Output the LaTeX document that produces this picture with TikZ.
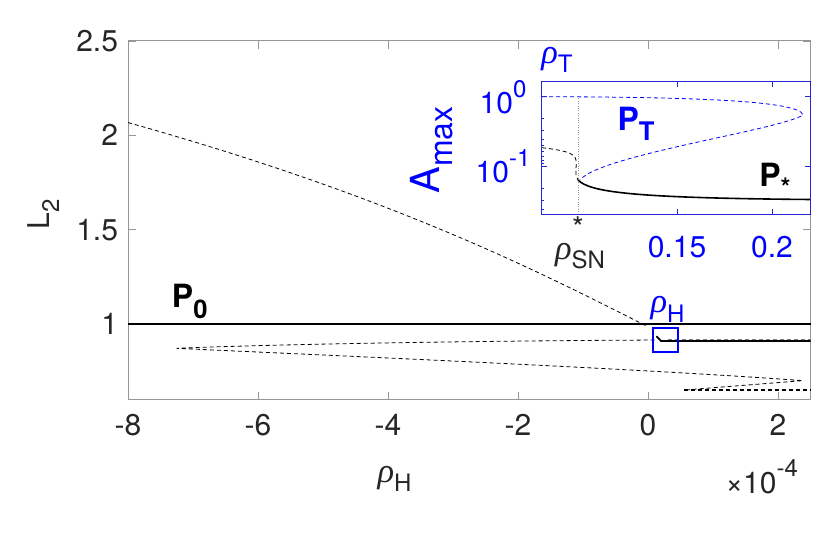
\documentclass[tikz,border=0pt]{standalone}
\usepackage{fontspec}
\setmainfont{TeX Gyre Heros}
\newfontfamily\greekfont{Liberation Serif}
\usepackage[svgnames]{xcolor}
\definecolor{axgray}{RGB}{150,150,150}
\definecolor{insetblue}{RGB}{0,0,255}
\newcommand{\lowsub}[1]{\raisebox{-0.32em}{\scalebox{0.8}{#1}}}
\newcommand{\highsup}[1]{\raisebox{0.55em}{\scalebox{0.8}{#1}}}
\newcommand{\rhosub}[1]{{\greekfont\itshape\scalebox{1.15}{ρ}}\lowsub{#1}}
\tikzset{
  ticklbl/.style={font=\fontsize{30}{34}\selectfont, text=black!85},
  bigbold/.style={font=\fontsize{32}{36}\selectfont\bfseries},
  branchdash/.style={dashed, dash pattern=on 4pt off 3pt, line width=0.8pt},
}
\begin{document}
\begin{tikzpicture}
		\useasboundingbox (0,0) rectangle (830pt,534pt);
		% main axes, data coordinates
		\begin{scope}[x=65pt, y=188.8pt, shift={(648pt,21.2pt)}]
		\draw[axgray, line width=0.8pt] (-8,0.6) rectangle (2.5,2.5);
		\foreach \xv in {-8,-6,-4,-2,0,2} {
			\draw[axgray] (\xv,0.6) -- ++(0,8pt);
			\draw[axgray] (\xv,2.5) -- ++(0,-8pt);
			\node[ticklbl, anchor=north] (xt\xv) at (\xv,0.54) {\xv};
		}
		\foreach \yv/\yl in {1/1,1.5/1.5,2/2,2.5/2.5} {
			\draw[axgray] (-8,\yv) -- ++(8pt,0);
			\draw[axgray] (2.5,\yv) -- ++(-8pt,0);
			\node[ticklbl, anchor=east] (yt\yl) at (-8.1,\yv) {\yl};
		}
		\node[ticklbl, rotate=90] (ylabel) at (-9.3,1.58) {L\lowsub{2}};
		\node[ticklbl] (xlabel) at (-3.9,0.18) {\rhosub{H}};
		\node[ticklbl] (xscale) at (1.75,0.19) {×10\highsup{-4}};
		% branches
		\draw[line width=1.4pt] (-8,1) -- (2.5,1);
		\draw[branchdash] (-8,2.067) .. controls (-4,1.68) and (-1.8,1.3) .. (0,0.985);
		\draw[branchdash] (0.1,0.915) .. controls (-3,0.91) and (-6,0.89) .. (-7.25,0.871)
			.. controls (-4,0.82) and (0,0.76) .. (2.38,0.70)
			-- (0.55,0.65);
		\draw[branchdash, line width=1.3pt] (0.55,0.65) -- (2.5,0.65);
		\draw[branchdash, gray] (0.3,0.92) -- (2.5,0.92);
		\draw[line width=1.8pt] (0.13,0.935) -- (0.2,0.91) -- (2.5,0.91);
		\node[minimum width=24pt, minimum height=23pt, inner sep=0pt] (hopfbox) at (0.27,0.915) {};
		\draw[insetblue, line width=2.2pt] (hopfbox.south west) rectangle (hopfbox.north east);
		\node[ticklbl, text=insetblue, anchor=south] (rhoH) at (0.3,0.99) {\rhosub{H}};
		\node[bigbold] (Pzero) at (-7.05,1.12) {P\lowsub{0}};
		\end{scope}
		% inset, pixel coordinates
		\begin{scope}[x=1pt, y=-1pt, shift={(0,534pt)}]
		\fill[white] (541.6,81.7) rectangle (810,214);
		\draw[axgray, dotted] (578,214) -- (578,97);
		\draw[branchdash, insetblue] (542,96.7) .. controls (680,97) and (800,100) .. (803,115)
			.. controls (780,130) and (600,155) .. (580,180);
		\draw[branchdash] (542,147.7) .. controls (560,150) and (575,152) .. (576,160)
			.. controls (577,168) and (574,175) .. (578,180);
		\draw[line width=1.6pt] (578,180) .. controls (590,192) and (630,198) .. (810,199.5);
		\draw[insetblue!70!gray, line width=0.8pt] (541.6,81.7) rectangle (810,214);
		\foreach \ty in {96.7,166.7} {\draw[insetblue!70!gray] (541.6,\ty) -- ++(5,0); \draw[insetblue!70!gray] (810,\ty) -- ++(-5,0);}
		\foreach \ty in {117.8,130.1,138.9,145.6,151.1,155.8,159.9,163.5,187.8,200.1,208.9} {\draw[insetblue!70!gray] (541.6,\ty) -- ++(2.5,0);}
		\foreach \tx in {677,772} {\draw[insetblue!70!gray] (\tx,214) -- ++(0,-5); \draw[insetblue!70!gray] (\tx,81.7) -- ++(0,5);}
		\node[ticklbl, text=insetblue] (ins10a) at (503,97) {10\highsup{0}};
		\node[ticklbl, text=insetblue] (ins10b) at (503,166) {10\highsup{-1}};
		\node[ticklbl, text=insetblue] (ins15) at (677,247) {0.15};
		\node[ticklbl, text=insetblue] (ins20) at (772,247) {0.2};
		\node[ticklbl, text=insetblue] (rhoT) at (557,60) {\rhosub{T}};
		\node[ticklbl] (star) at (578,228) {*};
		\node[ticklbl] (rhoSN) at (580,256) {\rhosub{SN}};
		\node[font=\fontsize{40}{44}\selectfont, text=insetblue, rotate=90] (Amax) at (432,150) {A\lowsub{max}};
		\node[bigbold, text=insetblue] (PT) at (636,124) {P\lowsub{T}};
		\node[bigbold] (Pstar) at (775,180) {P\lowsub{*}};
		\end{scope}
	\end{tikzpicture}
\end{document}
